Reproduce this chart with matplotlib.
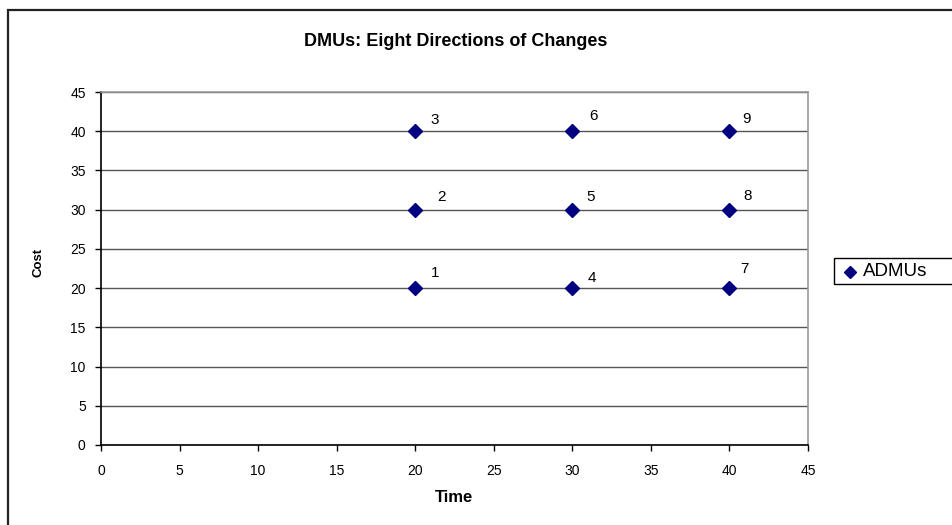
import matplotlib
matplotlib.use("Agg")
import matplotlib.pyplot as plt
from matplotlib.patches import Rectangle
from matplotlib.lines import Line2D

plt.rcParams['font.family'] = ['Liberation Sans', 'DejaVu Sans']

# Data
time = [20, 20, 20, 30, 30, 30, 40, 40, 40]
cost = [20, 30, 40, 20, 30, 40, 20, 30, 40]
point_labels = ['1', '2', '3', '4', '5', '6', '7', '8', '9']
series_name = 'ADMUs'
title = 'DMUs: Eight Directions of Changes'
x_ticks = [0, 5, 10, 15, 20, 25, 30, 35, 40, 45]
y_ticks = [0, 5, 10, 15, 20, 25, 30, 35, 40, 45]

# label offsets in points (styling)
label_offsets = [(14, 11), (19, 9), (14, 8), (14, 7), (13, 9), (15, 11), (11, 14), (13, 10), (12, 9)]

W, H = 952, 525
fig = plt.figure(figsize=(W / 100, H / 100), dpi=100)
fig.patch.set_facecolor('white')

# outer chart border (top and left visible)
fig.patches.append(Rectangle((8 / W, -0.1), 1.2, 1 - 10 / H + 0.1, transform=fig.transFigure,
                             fill=False, edgecolor='#222222', linewidth=1.6, zorder=0))

ax = fig.add_axes([101 / W, 1 - 445 / H, (808 - 101) / W, (445 - 92) / H])
ax.set_xlim(0, 45)
ax.set_ylim(0, 45)
ax.set_xticks(x_ticks)
ax.set_yticks(y_ticks)
ax.tick_params(axis='both', direction='out', length=4, width=1, labelsize=10, colors='black')
ax.tick_params(axis='x', pad=10)
ax.tick_params(axis='y', pad=7)
ax.yaxis.grid(True, color='#555555', linewidth=1)
ax.set_axisbelow(True)
for s in ['left', 'bottom']:
    ax.spines[s].set_color('black')
    ax.spines[s].set_linewidth(1.2)
for s in ['top', 'right']:
    ax.spines[s].set_color('#999999')
    ax.spines[s].set_linewidth(1.2)

ax.plot(time, cost, linestyle='none', marker='D', markersize=7, color='#000080',
        markeredgecolor='#000080', zorder=5, clip_on=False)
for xv, yv, lab, off in zip(time, cost, point_labels, label_offsets):
    ax.annotate(lab, (xv, yv), xytext=off, textcoords='offset points',
                fontsize=11, ha='center', va='center', color='black')

ax.set_xlabel('Time', fontsize=12, fontweight='bold')
ax.set_ylabel('Cost', fontsize=9.5, fontweight='bold')
ax.xaxis.set_label_coords((454 - 101) / (808 - 101), -(498 - 445) / (445 - 92))
ax.xaxis.label.set_va('center')
ax.yaxis.set_label_coords(-(101 - 39) / (808 - 101), (445 - 262) / (445 - 92))
ax.yaxis.label.set_va('center')

fig.text(456 / W, 1 - 41 / H, title, fontsize=13, fontweight='bold', ha='center', va='center')

# legend box (extends past the right edge, as in the reference)
fig.patches.append(Rectangle((834 / W, 1 - 284 / H), 0.3, 26 / H, transform=fig.transFigure,
                             fill=True, facecolor='white', edgecolor='black', linewidth=1, zorder=3))
fig.add_artist(Line2D([850 / W], [1 - 272 / H], transform=fig.transFigure, linestyle='none',
                      marker='D', markersize=6.5, color='#000080', zorder=4))
fig.text(863 / W, 1 - 272 / H, series_name, fontsize=13.5, ha='left', va='center', zorder=4)

fig.savefig('out.png', dpi=100)
